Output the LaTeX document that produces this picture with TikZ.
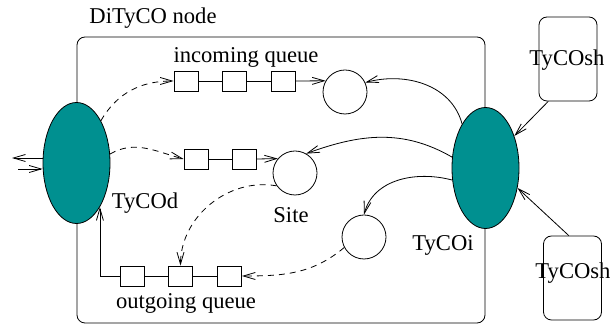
\documentclass[tikz,border=0pt]{standalone}
\usepackage{fontspec}
\setmainfont{Liberation Serif}
\usetikzlibrary{arrows.meta,shapes.geometric}
\definecolor{daemonteal}{RGB}{0,144,144}

\begin{document}
\begin{tikzpicture}[x=0.5pt,y=-0.5pt,
  >={Straight Barb[length=6pt,width=3.5pt]},
  every node/.style={font=\fontsize{11.3}{13}\selectfont},
  daemon/.style={ellipse,draw,fill=daemonteal,minimum width=33.5pt,minimum height=60.5pt,inner sep=0pt},
  qbox/.style={draw,fill=white,minimum width=12pt,minimum height=10pt,inner sep=0pt},
  site/.style={circle,draw,minimum size=22pt,inner sep=0pt},
  shell/.style={draw,rounded corners=4pt,minimum width=29pt,minimum height=42pt,inner sep=0pt},
  msg/.style={->,dash pattern=on 3pt off 2.5pt}]
\useasboundingbox (0,0) rectangle (616,325);

% DiTyCO node
\draw[rounded corners=4pt] (77,37) rectangle (485,323);
\node (title) at (153,18) {DiTyCO node};

% daemons
\node[daemon] (tycod) at (76.5,163) {};
\node[daemon] (tycoi) at (485.5,168) {};
\node (tycod label) at (145,203) {TyCOd};
\node (tycoi label) at (443,245) {TyCOi};

% sites
\node[site] (insite) at (345,92) {};
\node[site] (site) at (295,173) {};
\node[site] (lowsite) at (364,237) {};
\node (site label) at (291,215) {Site};

% incoming queue
\node (in label) at (246,57) {incoming queue};
\node[qbox] (in1) at (186,81) {};
\node[qbox] (in2) at (234.5,81) {};
\node[qbox] (in3) at (283,81) {};
\draw (in1) -- (in2) -- (in3);
\draw[->] (in3.east) -- (insite.150);

% queue to the site
\node[qbox] (mid1) at (196,159) {};
\node[qbox] (mid2) at (244.5,159) {};
\draw (mid1) -- (mid2);
\draw[->] (mid2.east) -- (site.140);

% outgoing queue
\node[qbox] (out1) at (132.5,276) {};
\node[qbox] (out2) at (180.5,276) {};
\node[qbox] (out3) at (229.5,276) {};
\node (out label) at (186,303) {outgoing queue};
\draw (out1) -- (out2) -- (out3);
\draw[->] (out1.west) -| (tycod.-62);

% messages
\draw[msg] (tycod.60) to[out=60,in=180] (in1.west);
\draw[msg] (tycod.15) to[out=30,in=165] (mid1.west);
\draw[msg] (site.215) to[out=170,in=90] (out2.north);
\draw[msg] (lowsite.208) to[out=220,in=0] (out3.east);

% TyCOi to the sites
\draw[->] (tycoi.118) to[out=105,in=15] (insite.25);
\draw[->] (tycoi.162) to[out=150,in=20] (site.60);
\draw[->] (tycoi.200) to[out=165,in=75] (lowsite.north);

% shells
\node[shell] (sh1) at (568,59) {};
\node (sh1 label) at (567,60) {TyCOsh};
\node[shell] (sh2) at (572.5,278) {};
\node (sh2 label) at (573,273) {TyCOsh};
\draw[->] (sh1.245) -- (tycoi.48);
\draw[->] (sh2.95) -- (tycoi.-32);

% outside
\coordinate (ext out) at (12,158);
\coordinate (ext in) at (18,169);
\draw[->] (tycod.west |- ext out) -- (ext out);
\draw[->] (ext in) -- (tycod.west |- ext in);
\end{tikzpicture}
\end{document}
